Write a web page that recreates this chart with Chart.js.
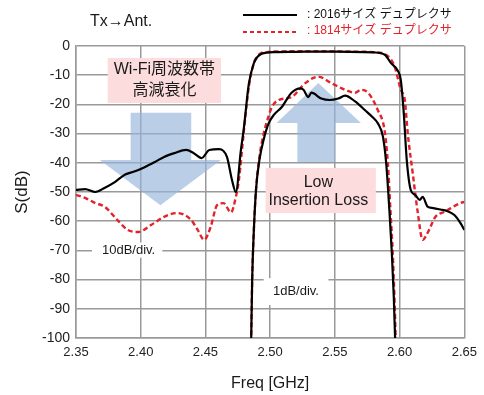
<!DOCTYPE html>
<html>
<head>
<meta charset="utf-8">
<script src="https://cdn.jsdelivr.net/npm/chart.js@4.4.1/dist/chart.umd.min.js"></script>
<style>
body{margin:0;background:#fff;}
#wrap{width:484px;height:395px;}
</style>
</head>
<body>
<div id="wrap"><canvas id="chart"></canvas></div>
<script>
const FONT = 'Arial, "Liberation Sans", "Noto Sans CJK JP", sans-serif';

const legend2016 = ': 2016サイズ デュプレクサ';
const legend1814 = ': 1814サイズ デュプレクサ';

// 10dB/div traces (GHz, dB)
const freq2016Wide = [2.35, 2.357, 2.365, 2.372, 2.380, 2.388, 2.395, 2.403, 2.411, 2.418,
  2.426, 2.435, 2.441, 2.447, 2.453, 2.4605, 2.4666, 2.4705, 2.4735, 2.4774,
  2.4797, 2.4835, 2.4873, 2.490, 2.4927, 2.497, 2.503, 2.52, 2.54, 2.56,
  2.58, 2.5886, 2.5932, 2.5986, 2.6009, 2.6032, 2.6055, 2.6086, 2.612, 2.6155,
  2.6178, 2.6216, 2.626, 2.6316, 2.6365, 2.6423, 2.6469, 2.65];
const s2016Wide = [-49.3, -49, -50, -48.6, -46.6, -44, -43, -41.5, -39.7, -38,
  -36.7, -35.6, -36.7, -38.4, -35.6, -35.3, -38, -45.9, -50, -35.6,
  -28, -13, -6, -3.8, -2.8, -2.3, -2.1, -2.0, -1.9, -2.0,
  -2.2, -3, -5.8, -8.5, -11.6, -23, -39, -49.3, -51, -52.7,
  -51.7, -55, -55.5, -56, -56.5, -57.9, -60.6, -63];

const freq1814Wide = [2.35, 2.357, 2.365, 2.372, 2.382, 2.390, 2.398, 2.408, 2.418, 2.428,
  2.439, 2.444, 2.449, 2.454, 2.459, 2.464, 2.4697, 2.4735, 2.4758, 2.4797,
  2.4835, 2.4873, 2.4927, 2.497, 2.503, 2.52, 2.54, 2.56, 2.58, 2.5886,
  2.5932, 2.5963, 2.6009, 2.604, 2.6063, 2.6101, 2.614, 2.6178, 2.6216, 2.6277,
  2.6346, 2.6469, 2.65];
const s1814Wide = [-51, -52, -53.8, -55, -59.6, -63, -63.7, -61.3, -58.5, -57.2,
  -59.6, -63, -66.4, -62, -54.5, -53.8, -57, -51.7, -46, -29,
  -14, -6, -2.5, -2.1, -1.9, -1.8, -1.8, -1.9, -2.1, -2.8,
  -4.5, -7.2, -15, -18.5, -30, -43.5, -57, -66.4, -64, -58.5,
  -56.8, -53.8, -53.4];

// 1dB/div passband traces (GHz, dB)
const freq2016Pass = [2.4850, 2.4861, 2.4874, 2.4891, 2.4917, 2.4950, 2.4988, 2.5030, 2.5088, 2.5165,
  2.5234, 2.5257, 2.5295, 2.5318, 2.5395, 2.5460, 2.5526, 2.5579, 2.5656, 2.5733,
  2.5794, 2.5832, 2.5871, 2.5896, 2.5922, 2.5940, 2.5955, 2.5965, 2.5975];
const s2016Pass = [-11, -8.0, -6.3, -4.9, -3.9, -3.2, -2.65, -2.35, -2.1, -1.6,
  -1.45, -1.5, -1.75, -1.6, -1.8, -1.85, -1.8, -1.7, -1.9, -2.2,
  -2.45, -2.65, -3.1, -4.0, -5.7, -7.1, -8.6, -10, -11];

const freq1814Pass = [2.4850, 2.4861, 2.4874, 2.4891, 2.4917, 2.4950, 2.4988, 2.5012, 2.5065, 2.5165,
  2.5272, 2.5372, 2.5472, 2.5579, 2.5656, 2.5702, 2.5756, 2.5832, 2.5884, 2.5909,
  2.5930, 2.5947, 2.5960, 2.5970, 2.5980];
const s1814Pass = [-11, -8.0, -6.3, -4.9, -3.8, -3.0, -2.4, -2.1, -1.85, -1.75,
  -1.27, -1.05, -1.27, -1.5, -1.6, -1.5, -1.6, -2.2, -2.9, -4.0,
  -5.7, -7.1, -8.6, -10, -11];

const pts = (xs, ys) => xs.map((x, i) => ({x: x, y: ys[i]}));

function poly(ctx, p) {
  ctx.beginPath();
  ctx.moveTo(p[0][0], p[0][1]);
  for (let i = 1; i < p.length; i++) ctx.lineTo(p[i][0], p[i][1]);
  ctx.closePath();
  ctx.fill();
}

const notes = {
  id: 'notes',
  beforeDatasetsDraw(chart) {
    const ctx = chart.ctx, xs = chart.scales.x, ys = chart.scales.y;
    const P = (f, d) => [xs.getPixelForValue(f), ys.getPixelForValue(d)];
    ctx.save();
    ctx.fillStyle = 'rgba(150,180,218,0.65)';
    // down arrow
    poly(ctx, [P(2.3922, -22.9), P(2.439, -22.9), P(2.439, -39), P(2.462, -39),
      P(2.4152, -54.5), P(2.3684, -39), P(2.3922, -39)]);
    // up arrow
    poly(ctx, [P(2.521, -39.7), P(2.5502, -39.7), P(2.5502, -26.4), P(2.5701, -26.4),
      P(2.5372, -12.7), P(2.5049, -26.4), P(2.521, -26.4)]);

    const box = (f1, d1, f2, d2, col) => {
      const a = P(f1, d1), b = P(f2, d2);
      ctx.fillStyle = col;
      ctx.fillRect(a[0], a[1], b[0] - a[0], b[1] - a[1]);
    };
    const txt = (s, f, d, size) => {
      const a = P(f, d);
      ctx.font = size + 'px ' + FONT;
      ctx.fillStyle = '#1a1a1a';
      ctx.textAlign = 'center';
      ctx.textBaseline = 'middle';
      ctx.fillText(s, a[0], a[1]);
    };
    box(2.3745, -4.1, 2.462, -19.5, '#fcdcdc');
    txt('Wi-Fi周波数帯', 2.4183, -8.2, 16);
    txt('高減衰化', 2.4183, -15.4, 16);
    box(2.4965, -41.8, 2.5816, -57.2, '#fcdcdc');
    txt('Low', 2.5372, -46.9, 16);
    txt('Insertion Loss', 2.5372, -53.1, 16);
    box(2.3623, -67.3, 2.4167, -72.5, '#ffffff');
    txt('10dB/div.', 2.3906, -69.9, 13);
    box(2.4950, -79.5, 2.5450, -88.7, '#ffffff');
    txt('1dB/div.', 2.5199, -84.0, 13);
    ctx.restore();
  },
  afterDraw(chart) {
    const ctx = chart.ctx;
    ctx.save();
    ctx.textBaseline = 'middle';
    ctx.textAlign = 'left';
    ctx.font = '16px ' + FONT;
    ctx.fillStyle = '#1a1a1a';
    ctx.fillText('Tx→Ant.', 90, 22);

    ctx.lineWidth = 2;
    ctx.strokeStyle = '#000';
    ctx.beginPath(); ctx.moveTo(243, 15); ctx.lineTo(297, 15); ctx.stroke();
    ctx.strokeStyle = '#e3222b';
    ctx.setLineDash([4, 3]);
    ctx.beginPath(); ctx.moveTo(243, 32); ctx.lineTo(297, 32); ctx.stroke();
    ctx.setLineDash([]);

    ctx.font = '12px ' + FONT;
    ctx.fillStyle = '#111';
    ctx.fillText(legend2016, 307, 15);
    ctx.fillStyle = '#e3222b';
    ctx.fillText(legend1814, 307, 31);
    ctx.restore();
  }
};

const ctx = document.getElementById('chart').getContext('2d');
new Chart(ctx, {
  type: 'line',
  data: {
    datasets: [
      {label: legend2016, data: pts(freq2016Wide, s2016Wide), yAxisID: 'y',
        borderColor: '#000', borderWidth: 2.2},
      {label: legend2016, data: pts(freq2016Pass, s2016Pass), yAxisID: 'yPass',
        borderColor: '#000', borderWidth: 2.2},
      {label: legend1814, data: pts(freq1814Wide, s1814Wide), yAxisID: 'y',
        borderColor: '#e3222b', borderWidth: 2.4, borderDash: [5, 3]},
      {label: legend1814, data: pts(freq1814Pass, s1814Pass), yAxisID: 'yPass',
        borderColor: '#e3222b', borderWidth: 2.4, borderDash: [5, 3]}
    ]
  },
  options: {
    responsive: true,
    maintainAspectRatio: false,
    animation: false,
    layout: {padding: {top: 46, right: 17, left: 0, bottom: 0}},
    elements: {
      point: {radius: 0},
      line: {cubicInterpolationMode: 'monotone', fill: false}
    },
    plugins: {legend: {display: false}, tooltip: {enabled: false}},
    scales: {
      x: {
        type: 'linear', min: 2.35, max: 2.65,
        afterFit: s => { s.height = 57; },
        ticks: {stepSize: 0.05, padding: 7, color: '#222',
          font: {family: FONT, size: 13},
          callback: v => v.toFixed(2)},
        grid: {color: '#9a9a9a', lineWidth: 1.5, drawTicks: false},
        border: {color: '#9a9a9a', width: 1.5},
        title: {display: true, text: 'Freq [GHz]', color: '#1a1a1a',
          font: {family: FONT, size: 16}, padding: {top: 0, bottom: 2}}
      },
      y: {
        min: -100, max: 0,
        afterFit: s => { s.width = 76; },
        ticks: {stepSize: 10, padding: 6, color: '#222',
          font: {family: FONT, size: 14}},
        grid: {color: '#9a9a9a', lineWidth: 1.5, drawTicks: false},
        border: {color: '#9a9a9a', width: 1.5},
        title: {display: true, text: 'S(dB)', color: '#1a1a1a',
          font: {family: FONT, size: 17}, padding: {top: 12, bottom: 0}}
      },
      yPass: {display: false, min: -10, max: 0}
    }
  },
  plugins: [notes]
});
</script>
</body>
</html>
